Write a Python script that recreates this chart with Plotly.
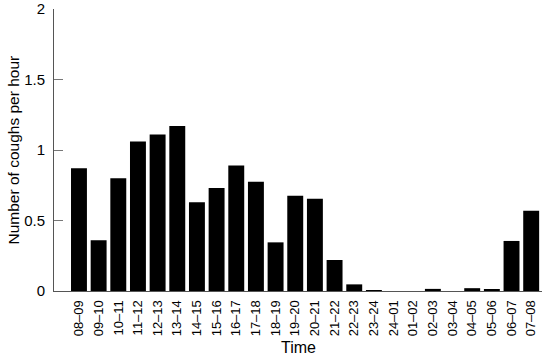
import plotly.graph_objects as go

periods = ["08–09", "09–10", "10–11", "11–12", "12–13", "13–14", "14–15", "15–16",
           "16–17", "17–18", "18–19", "19–20", "20–21", "21–22", "22–23", "23–24",
           "24–01", "01–02", "02–03", "03–04", "04–05", "05–06", "06–07", "07–08"]
coughs = [0.87, 0.36, 0.80, 1.06, 1.11, 1.17, 0.63, 0.73,
          0.89, 0.775, 0.345, 0.675, 0.655, 0.22, 0.047, 0.004,
          0.0, 0.0, 0.015, 0.0, 0.02, 0.008, 0.355, 0.57]
y_ticks = [0, 0.5, 1, 1.5, 2]
y_tick_text = ["0", "0.5", "1", "1.5", "2"]

fig = go.Figure(go.Bar(x=list(range(len(periods))), y=coughs,
                       marker=dict(color="black", line=dict(width=0))))

fig.update_layout(
    width=550, height=358,
    margin=dict(l=54, r=8, t=9, b=67),
    plot_bgcolor="white", paper_bgcolor="white",
    bargap=0.19,
    showlegend=False,
    font=dict(family="Arial, Liberation Sans, sans-serif", color="black", size=13),
    xaxis=dict(
        range=[-1.27, 23.55], automargin=False,
        tickmode="array", tickvals=list(range(len(periods))), ticktext=periods,
        tickangle=-90, ticks="", showgrid=False, zeroline=False,
        showline=True, linecolor="#555", linewidth=1,
        tickfont=dict(size=13), ticklabelstandoff=3,
    ),
    yaxis=dict(
        range=[0, 2], automargin=False,
        tickmode="array", tickvals=y_ticks, ticktext=y_tick_text,
        ticks="inside", ticklen=9, tickcolor="#777", tickwidth=1,
        showgrid=False, zeroline=False,
        showline=True, linecolor="#555", linewidth=1,
        tickfont=dict(size=15), ticklabelstandoff=5,
    ),
    annotations=[
        dict(text="Time", xref="paper", yref="paper", x=0.5, y=-0.2, yanchor="middle",
             xanchor="center", showarrow=False, font=dict(size=16)),
        dict(text="Number of coughs per hour", xref="paper", x=-0.083, xanchor="center",
             yref="paper", y=0.5, yanchor="middle", textangle=-90, showarrow=False,
             font=dict(size=15.5)),
    ],
)

fig.write_html("out.html", config={"displayModeBar": False},
               post_script="document.body.style.margin='0';document.body.style.padding='0';")
